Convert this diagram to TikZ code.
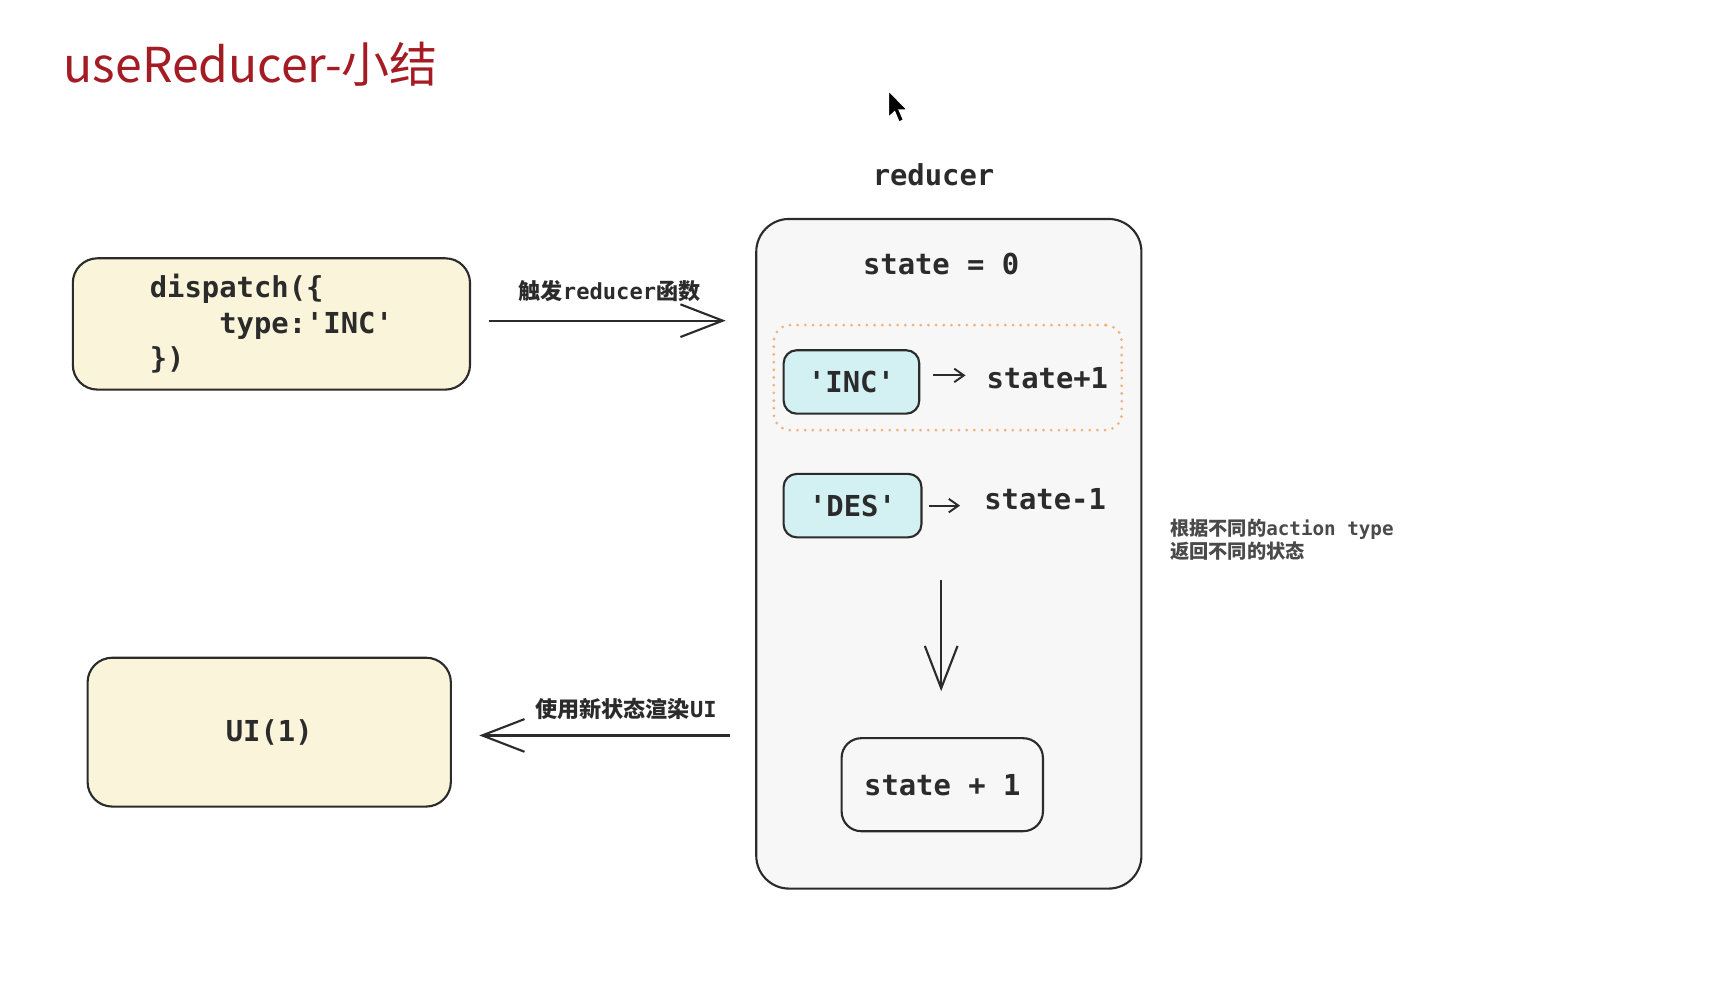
\documentclass[tikz,border=0pt]{standalone}
\usepackage{fontspec}
\setmonofont{DejaVu Sans Mono}
\newfontfamily\cjk{Noto Sans CJK SC}
\usetikzlibrary{calc}
\usetikzlibrary{positioning}
\usetikzlibrary{arrows.meta}
\definecolor{inkgray}{HTML}{2B2B2B}
\definecolor{notegray}{HTML}{4A4A4A}
\definecolor{titlered}{HTML}{A51B24}
\definecolor{paleyellow}{HTML}{FAF5DA}
\definecolor{palecyan}{HTML}{D3F0F3}
\definecolor{palegray}{HTML}{F7F7F7}
\definecolor{softorange}{HTML}{F2B27C}
\newcommand{\zh}[1]{{\cjk #1}}
\tikzstyle{sketchbox} = [draw=inkgray, line width=1.1pt, rounded corners=0.45cm, text=inkgray, font=\ttfamily\bfseries\fontsize{15}{18.5}\selectfont]
\tikzstyle{yellowbox} = [sketchbox, fill=paleyellow]
\tikzstyle{typebox} = [sketchbox, fill=palecyan, rounded corners=0.24cm, minimum height=1.16cm]
\tikzstyle{casebox} = [draw=softorange, line width=1.6pt, dash pattern=on 0pt off 4pt, line cap=round, rounded corners=0.3cm]
\tikzstyle{codetext} = [text=inkgray, font=\ttfamily\bfseries\fontsize{15}{18.5}\selectfont]
\tikzstyle{smalltext} = [text=inkgray, font=\ttfamily\bfseries\fontsize{11.5}{14}\selectfont]
\tikzstyle{bigarrow} = [draw=inkgray, line width=1.1pt, -{Straight Barb[length=22pt,width=17pt]}]
\tikzstyle{smallarrow} = [draw=inkgray, line width=1pt, -{Straight Barb[length=5pt,width=7pt]}]

\begin{document}
\begin{tikzpicture}[x=0.02cm, y=-0.02cm]
\useasboundingbox (0,0) rectangle (1568,904);
\node[anchor=base west, text=titlered, font=\cjk\fontsize{25}{30}\selectfont] (title) at (52,75) {useReducer-小结};
\fill[black, draw=white, line width=0.6pt] (812,83) -- (812,107) -- (817.5,102) -- (821.5,111.5) -- (825.5,109.5) -- (821.5,100.5) -- (829,100.5) -- cycle;

% reducer
\node[sketchbox, fill=palegray, rounded corners=0.6cm, minimum width=7.04cm, minimum height=12.24cm] (red) at (867,506) {};
\node[codetext] (redname) at ($(red.north)+(-14,-39)$) {reducer};
\node[codetext] (init) at (860,241) {state = 0};
\node[casebox, minimum width=6.36cm, minimum height=1.92cm] (hit) at (866,345) {};
\node[typebox, minimum width=2.48cm] (inc) at (778,349) {'INC'};
\node[codetext] (incres) at (957,346) {state+1};
\node[typebox, minimum width=2.52cm] (des) at (779,462) {'DES'};
\node[codetext] (desres) at (955,456) {state-1};
\node[sketchbox, rounded corners=0.36cm, minimum width=3.68cm, minimum height=1.7cm] (res) at (861,717) {state + 1};
\coordinate (flow) at (860,530);
\draw[smallarrow, shorten <=0.24cm, shorten >=0.26cm] ([yshift=0.12cm]inc.east) -- ([yshift=0.12cm]inc.east -| incres.west);
\draw[smallarrow, shorten <=0.12cm, shorten >=0.32cm] (des.east) -- (des.east -| desres.west);
\draw[bigarrow, shorten >=0.84cm] (flow) -- (flow |- res.north);
\node[smalltext, text=notegray, anchor=west, align=left, font=\ttfamily\bfseries\fontsize{10}{12}\selectfont] (note) at (1063,493) {\zh{根据不同的}action type\\\zh{返回不同的状态}};

% dispatch and ui
\node[yellowbox, minimum width=7.26cm, minimum height=2.4cm, align=left] (disp) at (248,296) {dispatch(\{\\\hphantom{xxxx}type:'INC'\\\})};
\node[yellowbox, minimum width=6.64cm, minimum height=2.72cm] (ui) at (246,669) {UI(1)};
\draw[bigarrow, shorten <=0.32cm, shorten >=0.54cm] ([yshift=0.06cm]disp.east) -- ([yshift=0.06cm]disp.east -| red.west);
\draw[bigarrow, shorten <=0.46cm, shorten >=0.5cm] ([yshift=-0.06cm]ui.east -| red.west) -- ([yshift=-0.06cm]ui.east);
\node[smalltext] (fire) at (557,266) {\zh{触发}reducer\zh{函数}};
\node[smalltext] (render) at (572,648) {\zh{使用新状态渲染}UI};
\end{tikzpicture}
\end{document}
